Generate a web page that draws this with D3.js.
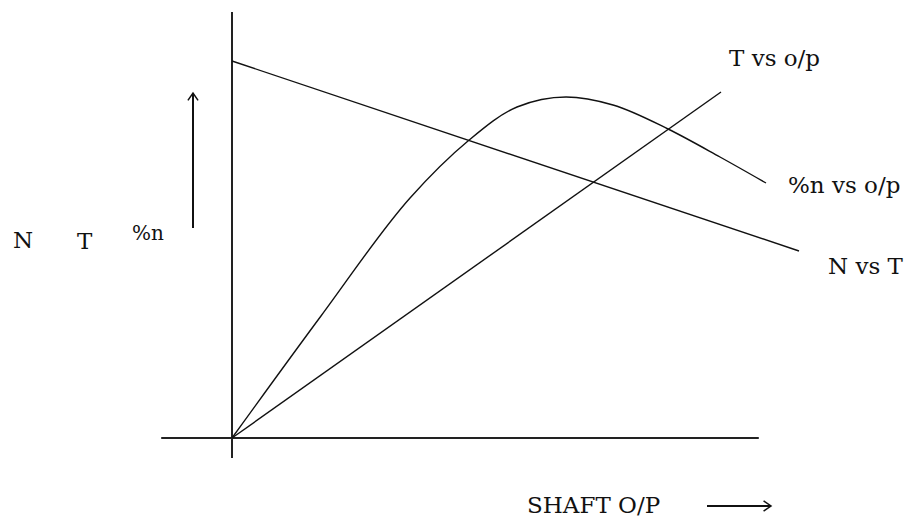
<!DOCTYPE html>
<html>
<head>
<meta charset="utf-8">
<script src="https://cdn.jsdelivr.net/npm/d3@7"></script>
<style>
  html, body { margin: 0; padding: 0; background: #fff; }
  svg { display: block; }
  text { font-family: "DejaVu Serif", serif; fill: #111; }
</style>
</head>
<body>
<svg id="chart" width="916" height="517"></svg>
<script>
// ---- data (arbitrary units: x = shaft output, y = quantity) ----
const seriesNames = ["N vs T", "T vs o/p", "%n vs o/p"];
const speedX = [0, 94.5];
const speedY = [94.25, 46.75];
const torqueX = [0, 81.5];
const torqueY = [0, 86.5];
const effX = [0, 14.83, 29.67, 39.33, 47.5, 55.67, 63.5, 72.67, 81.33, 89];
const effY = [0, 30.5, 60, 74.25, 82.75, 85.25, 83.25, 77.25, 70.25, 63.75];
const yAxisLabels = ["N", "T", "%n"];
const xAxisLabel = "SHAFT O/P";

// ---- layout ----
const svg = d3.select("#chart");
const x = d3.scaleLinear().domain([0, 100]).range([232, 832]);
const y = d3.scaleLinear().domain([0, 100]).range([438, 38]);

const axisColor = "#222";
// horizontal axis
svg.append("line")
  .attr("x1", x(-11.8)).attr("x2", x(87.8))
  .attr("y1", y(0)).attr("y2", y(0))
  .attr("stroke", axisColor).attr("stroke-width", 2);
// vertical axis
svg.append("line")
  .attr("x1", x(0)).attr("x2", x(0))
  .attr("y1", y(106.5)).attr("y2", y(-5))
  .attr("stroke", axisColor).attr("stroke-width", 2);

const lineGen = d3.line().x(d => x(d[0])).y(d => y(d[1]));
const curveGen = d3.line().x(d => x(d[0])).y(d => y(d[1])).curve(d3.curveMonotoneX);

const lineStyle = sel => sel.attr("fill", "none").attr("stroke", "#111").attr("stroke-width", 1.4);

svg.append("path").datum(d3.zip(speedX, speedY)).attr("d", lineGen).call(lineStyle);
svg.append("path").datum(d3.zip(torqueX, torqueY)).attr("d", lineGen).call(lineStyle);
svg.append("path").datum(d3.zip(effX, effY)).attr("d", curveGen).call(lineStyle);

// series labels
const fs = 23;
svg.append("text").attr("x", 828).attr("y", 274).attr("font-size", fs).text(seriesNames[0]);
svg.append("text").attr("x", 729).attr("y", 66).attr("font-size", fs).text(seriesNames[1]);
svg.append("text").attr("x", 788).attr("y", 193).attr("font-size", fs).text(seriesNames[2]);

// y-axis labels
svg.append("text").attr("x", 13).attr("y", 248).attr("font-size", fs).text(yAxisLabels[0]);
svg.append("text").attr("x", 77).attr("y", 249).attr("font-size", fs).text(yAxisLabels[1]);
svg.append("text").attr("x", 132).attr("y", 240).attr("font-size", fs - 3).text(yAxisLabels[2]);

// x-axis label
svg.append("text").attr("x", 527).attr("y", 513).attr("font-size", fs).text(xAxisLabel);

// arrows
function arrow(x1, y1, x2, y2) {
  svg.append("line").attr("x1", x1).attr("y1", y1).attr("x2", x2).attr("y2", y2)
    .attr("stroke", "#111").attr("stroke-width", 2);
  const ang = Math.atan2(y2 - y1, x2 - x1);
  const L = 9, spread = 0.6;
  const pts = [
    [x2 - L * Math.cos(ang - spread), y2 - L * Math.sin(ang - spread)],
    [x2, y2],
    [x2 - L * Math.cos(ang + spread), y2 - L * Math.sin(ang + spread)]
  ];
  svg.append("path").attr("d", d3.line()(pts))
    .attr("fill", "none").attr("stroke", "#111").attr("stroke-width", 1.5);
}
arrow(193, 228, 193, 93);
arrow(707, 506, 771, 506);
</script>
</body>
</html>
